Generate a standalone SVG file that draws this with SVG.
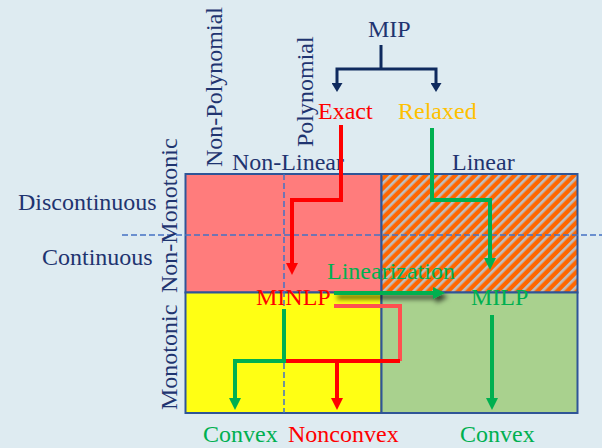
<svg xmlns="http://www.w3.org/2000/svg" width="602" height="448" viewBox="0 0 602 448">
<style>
text{font-family:"Liberation Serif","Times New Roman",serif;font-size:24px}
.navy{fill:#1F3470}
.red{fill:#FF0000}
.green{fill:#00B050}
.gold{fill:#FFC000}
.cell{stroke:#2F5597;stroke-width:2}
.dash{stroke:#4472C4;stroke-width:1.5;stroke-dasharray:6 3;fill:none}
.c{fill:none;stroke-width:4}
</style>
<defs>
<pattern id="hatch" patternUnits="userSpaceOnUse" width="7" height="7" patternTransform="rotate(45)">
<rect width="7" height="7" fill="#FF6600"/>
<rect width="2.6" height="7" fill="#BFBFBF"/>
</pattern>
<marker id="aNavy" markerUnits="userSpaceOnUse" markerWidth="11" markerHeight="11" refX="0" refY="5.5" orient="auto-start-reverse"><path d="M0,0 L9,5.5 L0,11 z" fill="#0F2A5E"/></marker>
<marker id="aRed" markerUnits="userSpaceOnUse" markerWidth="12" markerHeight="12" refX="0" refY="6" orient="auto"><path d="M0,0 L12,6 L0,12 z" fill="#FF0000"/></marker>
<marker id="aGreen" markerUnits="userSpaceOnUse" markerWidth="12" markerHeight="12" refX="0" refY="6" orient="auto"><path d="M0,0 L12,6 L0,12 z" fill="#00B050"/></marker>
<filter id="shadow" filterUnits="userSpaceOnUse" x="320" y="275" width="150" height="40"><feDropShadow dx="3" dy="4" stdDeviation="2.5" flood-color="#000" flood-opacity="0.7"/></filter>
</defs>
<rect width="602" height="448" fill="#DEEBF1"/>
<g id="regions">
<rect class="cell" x="185.5" y="174" width="196" height="118.5" fill="#FF7C7C"/>
<rect class="cell" x="381.5" y="174" width="196" height="118.5" fill="url(#hatch)"/>
<rect class="cell" x="185.5" y="292.5" width="196" height="120.5" fill="#FFFF14"/>
<rect class="cell" x="381.5" y="292.5" width="196" height="120.5" fill="#A9D18E"/>
</g>
<g id="dividers">
<line class="dash" x1="122" y1="235" x2="602" y2="235"/>
<line class="dash" x1="284" y1="174" x2="284" y2="413"/>
</g>
<g id="axis-labels">
<text x="232" y="170" class="navy">Non-Linear</text>
<text x="452" y="170" class="navy">Linear</text>
<text x="18" y="210" class="navy">Discontinuous</text>
<text x="42" y="265" class="navy">Continuous</text>
<text transform="translate(222,167) rotate(-90)" class="navy">Non-Polynomial</text>
<text transform="translate(313,147) rotate(-90)" class="navy">Polynomial</text>
<text transform="translate(177,293) rotate(-90)" class="navy">Non-Monotonic</text>
<text transform="translate(177,410) rotate(-90)" class="navy">Monotonic</text>
</g>
<g id="connectors">
<path d="M381,45 V69" fill="none" stroke="#0F2A5E" stroke-width="3"/>
<path d="M337,83 V69 H436 V83" fill="none" stroke="#0F2A5E" stroke-width="3" marker-start="url(#aNavy)" marker-end="url(#aNavy)"/>
<path class="c" d="M341,125 V200 H292 V263" stroke="#FF0000" marker-end="url(#aRed)"/>
<path class="c" d="M432,128 V200 H490 V258" stroke="#00B050" marker-end="url(#aGreen)"/>
<g filter="url(#shadow)"><path class="c" d="M334,293 H433" stroke="#00B050" marker-end="url(#aGreen)"/></g>
<path class="c" d="M492,315 V398" stroke="#00B050" marker-end="url(#aGreen)"/>
<path class="c" d="M334,306 H400 V361" stroke="#FF5050"/>
<path class="c" d="M400,361 H284" stroke="#FF0000"/>
<path class="c" d="M337,361 V398" stroke="#FF0000" marker-end="url(#aRed)"/>
<path class="c" d="M284,309 V361 H235 V398" stroke="#00B050" marker-end="url(#aGreen)"/>
</g>
<g id="node-mip"><text x="368" y="37" class="navy">MIP</text></g>
<g id="node-exact"><text x="318" y="119" class="red">Exact</text></g>
<g id="node-relaxed"><text x="398" y="119" class="gold">Relaxed</text></g>
<g id="label-linearization"><text x="327" y="279" class="green">Linearization</text></g>
<g id="node-minlp"><text x="256" y="305" class="red">MINLP</text></g>
<g id="node-milp"><text x="471" y="305" class="green">MILP</text></g>
<g id="node-convex-1"><text x="203" y="442" class="green">Convex</text></g>
<g id="node-nonconvex"><text x="288" y="442" class="red">Nonconvex</text></g>
<g id="node-convex-2"><text x="460" y="442" class="green">Convex</text></g>
</svg>
